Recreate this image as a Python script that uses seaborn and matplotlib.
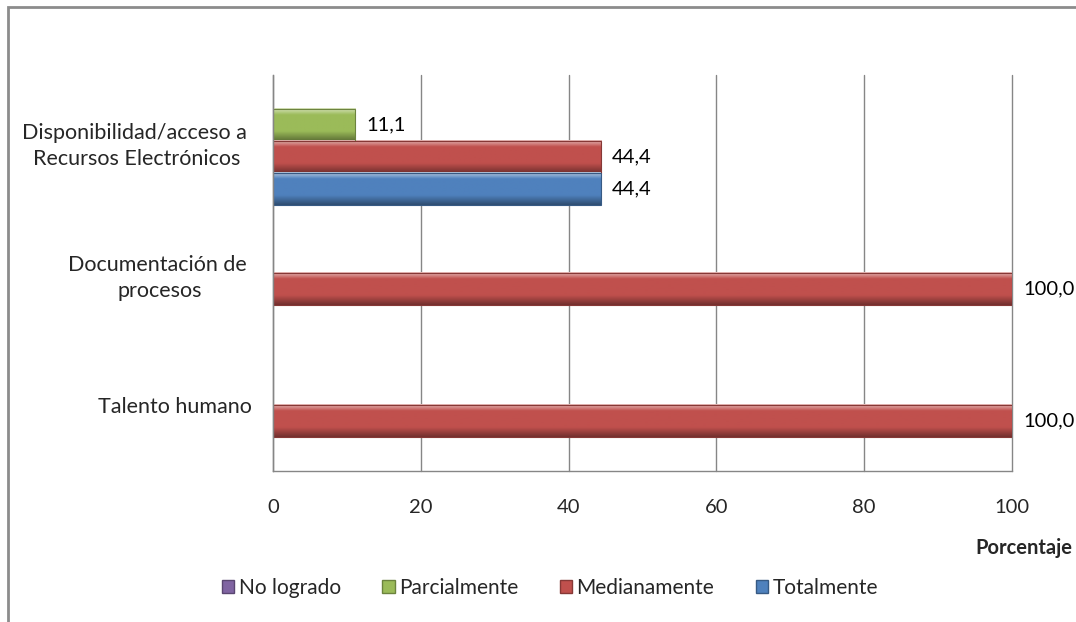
import numpy as np
import pandas as pd
import matplotlib.pyplot as plt
import matplotlib.patches as mpatches
import matplotlib.colors as mcolors
import seaborn as sns

categorias = ["Disponibilidad/acceso a \nRecursos Electrónicos",
              "Documentación de \nprocesos",
              "Talento humano"]
series = ["No logrado", "Parcialmente", "Medianamente", "Totalmente"]
no_logrado = [0.0, 0.0, 0.0]
parcialmente = [11.1, 0.0, 0.0]
medianamente = [44.4, 100.0, 100.0]
totalmente = [44.4, 0.0, 0.0]
colores = ["#8064A2", "#9BBB59", "#C0504D", "#4F81BD"]

df = pd.DataFrame({
    "categoria": categorias * 4,
    "serie": np.repeat(series, 3),
    "valor": no_logrado + parcialmente + medianamente + totalmente,
})

sns.set_style("white")
plt.rcParams["font.family"] = ["Lato", "DejaVu Sans"]

fig = plt.figure(figsize=(10.76, 6.22), dpi=100)
ax = fig.add_axes([273 / 1076, 1 - 471 / 622, (1012 - 273) / 1076, (471 - 75) / 622])

sns.barplot(data=df, y="categoria", x="valor", hue="serie", hue_order=series,
            order=categorias, palette=colores, orient="h", width=0.97,
            saturation=1, legend=False, ax=ax)

ax.set_xlim(0, 100)
ylim = ax.get_ylim()


def bevel(color, n=64):
    base = np.array(mcolors.to_rgb(color))
    t = np.linspace(0, 1, n)[:, None]
    light = np.clip(0.6 * (1 - t / 0.2), 0, None)
    dark = np.clip(0.4 * (t - 0.7) / 0.3, 0, None)
    rgb = base * (1 - light) + light
    rgb = rgb * (1 - dark)
    return rgb[:, None, :]


for cont, col in zip(ax.containers, colores):
    for p in cont:
        p.set_edgecolor("none")
        if p.get_width() <= 0:
            p.set_visible(False)
            continue
        x0, y0, w, h = p.get_x(), p.get_y(), p.get_width(), p.get_height()
        ax.imshow(bevel(col), extent=(x0, x0 + w, y0 + h, y0), aspect="auto",
                  zorder=p.get_zorder() + 0.1, interpolation="bilinear")
        dk = np.array(mcolors.to_rgb(col)) * 0.7
        ax.add_patch(mpatches.Rectangle((x0, y0), w, h, fill=False,
                                        edgecolor=dk, lw=0.8,
                                        zorder=p.get_zorder() + 0.2))
    labels = [f"{v:.1f}".replace(".", ",") if v > 0 else "" for v in cont.datavalues]
    ax.bar_label(cont, labels=labels, padding=8, fontsize=14.5, color="black")

ax.set_ylim(ylim)
ax.set_xticks([0, 20, 40, 60, 80, 100])
ax.grid(axis="x", color="#868686", lw=1)
ax.grid(axis="y", visible=False)
for gl in ax.get_xgridlines():
    gl.set_clip_on(False)
ax.set_axisbelow(True)
for s in ["top", "right"]:
    ax.spines[s].set_visible(False)
for s in ["left", "bottom"]:
    ax.spines[s].set_color("#868686")
    ax.spines[s].set_linewidth(1)
ax.tick_params(axis="x", length=0, pad=20, labelsize=14.5)
ax.tick_params(axis="y", length=0, pad=15, labelsize=15.5)
for lbl in ax.get_yticklabels():
    lbl.set_multialignment("center")
    lbl.set_linespacing(1.35)
ax.set_xlabel("")
ax.set_ylabel("")

fig.text(1072 / 1076, 1 - 548 / 622, "Porcentaje", ha="right", va="center",
         fontsize=14.5, fontweight="bold")

handles = [mpatches.Patch(facecolor=c, edgecolor=np.array(mcolors.to_rgb(c)) * 0.7, label=s)
           for s, c in zip(series, colores)]
fig.legend(handles=handles, loc="center", bbox_to_anchor=(550 / 1076, 1 - 588 / 622),
           ncol=4, frameon=False, fontsize=15, handlelength=0.6, handleheight=0.6,
           handletextpad=0.2, columnspacing=2.0)

fig.add_artist(mpatches.Rectangle((8 / 1076, -0.5), 2, 1.5 - 7 / 622,
                                  transform=fig.transFigure, fill=False,
                                  edgecolor="#8c8c8c", lw=2))

fig.savefig("out.png", dpi=100)
